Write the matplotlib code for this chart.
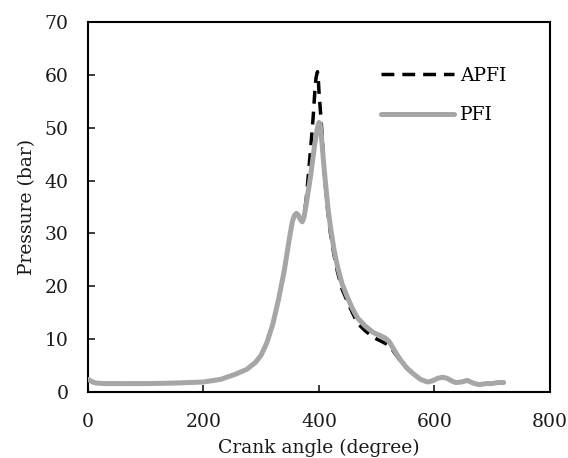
import matplotlib
matplotlib.use("Agg")
import matplotlib.pyplot as plt

# crank angle (deg) / pressure (bar)
pfi_angle = [0, 5, 10, 15, 30, 60, 100, 150, 200, 230, 256, 275, 290, 300, 310,
             320, 330, 340, 348, 354, 358, 361, 364, 368, 371, 374, 378, 386,
             392, 397, 400, 402, 405, 408, 412, 416, 420, 426, 432, 440, 449,
             458, 467, 480, 495, 508, 515, 522, 530, 541, 552, 564, 576, 588,
             596, 606, 614, 622, 630, 637, 647, 657, 667, 677, 690, 700, 710, 720]
pfi_p = [2.4, 2.1, 1.8, 1.7, 1.6, 1.6, 1.6, 1.7, 1.9, 2.4, 3.4, 4.3, 5.6, 7.0, 9.4,
         12.8, 17.5, 23.0, 28.5, 32.3, 33.5, 33.8, 33.5, 32.6, 32.2, 33.0, 35.5, 41.2,
         46.3, 49.8, 51.0, 50.8, 47.5, 43.5, 38.8, 34.5, 31.2, 27.0, 23.8, 20.5, 18.0,
         15.8, 14.0, 12.5, 11.2, 10.6, 10.2, 9.5, 8.0, 6.1, 4.6, 3.4, 2.4, 1.9,
         2.1, 2.6, 2.8, 2.6, 2.1, 1.8, 1.9, 2.2, 1.7, 1.4, 1.6, 1.6, 1.8, 1.8]

apfi_angle = [0, 5, 10, 15, 30, 60, 100, 150, 200, 230, 256, 275, 290, 300, 310,
              320, 330, 340, 348, 354, 358, 361, 364, 368, 371, 374, 378, 382,
              386, 390, 393, 395, 397.5, 399, 400, 402, 404, 407, 410, 415, 420,
              426, 432, 440, 449, 458, 467, 480, 495, 508, 515, 522, 530, 541,
              552, 564, 576, 588, 596, 606, 614, 622, 630, 637, 647, 657, 667,
              677, 690, 700, 710, 720]
apfi_p = [2.4, 2.1, 1.8, 1.7, 1.6, 1.6, 1.6, 1.7, 1.9, 2.4, 3.4, 4.3, 5.6, 7.0, 9.4,
          12.8, 17.5, 23.0, 28.5, 32.3, 33.5, 33.8, 33.5, 32.6, 32.2, 33.2, 36.5, 41.5,
          46.5, 52.0, 57.0, 59.5, 60.6, 59.0, 57.0, 54.0, 51.0, 46.0, 40.5, 34.5, 30.0,
          26.0, 22.8, 19.5, 17.2, 15.0, 13.0, 11.6, 10.3, 9.6, 9.2, 8.8, 7.6, 5.9,
          4.5, 3.4, 2.4, 1.9, 2.1, 2.6, 2.8, 2.6, 2.1, 1.8, 1.9, 2.2, 1.7,
          1.4, 1.6, 1.6, 1.8, 1.8]

plt.rcParams["font.family"] = ["DejaVu Serif"]

fig = plt.figure(figsize=(5.68, 4.58), dpi=100)
ax = fig.add_axes([0.155, 0.144, 0.813, 0.808])

ax.plot(apfi_angle, apfi_p, color="black", lw=2.5, ls=(0, (3.7, 2.3)), label="APFI",
        zorder=2, solid_joinstyle="round")
ax.plot(pfi_angle, pfi_p, color="#a6a6a6", lw=3.6, label="PFI", zorder=3,
        solid_joinstyle="round", solid_capstyle="round")

ax.set_xlim(0, 800)
ax.set_ylim(0, 70)
ax.set_xticks(range(0, 801, 200))
ax.set_yticks(range(0, 71, 10))
ax.tick_params(direction="in", length=5, width=1.2, labelsize=13.5, colors="#1a1a1a")
ax.tick_params(axis="y", pad=14)
ax.tick_params(axis="x", pad=15)
for s in ax.spines.values():
    s.set_linewidth(1.5)

ax.set_xlabel("Crank angle (degree)", fontsize=13.5, labelpad=6, color="#1a1a1a")
ax.set_ylabel("Pressure (bar)", fontsize=13.5, labelpad=6, color="#1a1a1a")

ax.legend(loc="upper left", bbox_to_anchor=(0.635, 0.879), frameon=False, fontsize=13.5,
          handlelength=3.9, labelspacing=1.15, handletextpad=0.3,
          borderpad=0, borderaxespad=0)

fig.savefig("out.png", dpi=100)
